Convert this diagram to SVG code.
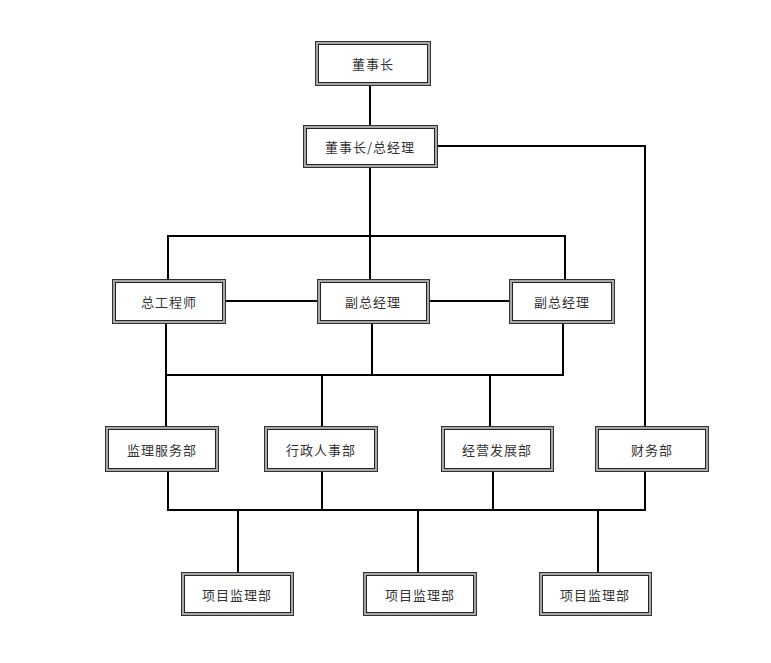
<svg xmlns="http://www.w3.org/2000/svg" width="771" height="663" viewBox="0 0 771 663">
<style>
.o{fill:#a8a8a8;stroke:#333;stroke-width:1}
.i{fill:#fff;stroke:#222;stroke-width:1}
.t{font-family:"Noto Sans CJK SC","Noto Sans",sans-serif;font-size:13px;letter-spacing:1px;fill:#333;text-anchor:middle;dominant-baseline:central}
.c{fill:none;stroke:#000;stroke-width:2}
</style>
<rect width="771" height="663" fill="#fff"/>
<g id="connectors">
<path class="c" d="M370 85V125"/>
<path class="c" d="M437 146H645V426"/>
<path class="c" d="M370 167V279"/>
<path class="c" d="M168 279V236H565V279"/>
<path class="c" d="M225 301H317M429 301H509"/>
<path class="c" d="M166 323V426"/>
<path class="c" d="M166 375H563V323"/>
<path class="c" d="M372 323V375"/>
<path class="c" d="M322 375V426M490 375V426"/>
<path class="c" d="M168 471V510H645V471"/>
<path class="c" d="M322 471V510M493 471V510"/>
<path class="c" d="M238 510V572M418 510V572M598 510V572"/>
</g>
<g id="n1"><rect class="o" x="315.5" y="41.5" width="115" height="44"/><rect class="i" x="318.5" y="44.5" width="109" height="38"/><text class="t" x="373" y="63.5">董事长</text></g>
<g id="n2"><rect class="o" x="303.5" y="125.5" width="134" height="42"/><rect class="i" x="306.5" y="128.5" width="128" height="36"/><text class="t" x="370" y="146.5">董事长/总经理</text></g>
<g id="n3"><rect class="o" x="112.5" y="279.5" width="113" height="44"/><rect class="i" x="115.5" y="282.5" width="107" height="38"/><text class="t" x="169" y="301.5">总工程师</text></g>
<g id="n4"><rect class="o" x="317.5" y="279.5" width="112" height="44"/><rect class="i" x="320.5" y="282.5" width="106" height="38"/><text class="t" x="373" y="301.5">副总经理</text></g>
<g id="n5"><rect class="o" x="509.5" y="279.5" width="105" height="44"/><rect class="i" x="512.5" y="282.5" width="99" height="38"/><text class="t" x="562" y="301.5">副总经理</text></g>
<g id="n6"><rect class="o" x="105.5" y="426.5" width="113" height="45"/><rect class="i" x="108.5" y="429.5" width="107" height="39"/><text class="t" x="162" y="449">监理服务部</text></g>
<g id="n7"><rect class="o" x="264.5" y="426.5" width="113" height="45"/><rect class="i" x="267.5" y="429.5" width="107" height="39"/><text class="t" x="321" y="449">行政人事部</text></g>
<g id="n8"><rect class="o" x="441.5" y="426.5" width="112" height="45"/><rect class="i" x="444.5" y="429.5" width="106" height="39"/><text class="t" x="497" y="449">经营发展部</text></g>
<g id="n9"><rect class="o" x="595.5" y="426.5" width="113" height="45"/><rect class="i" x="598.5" y="429.5" width="107" height="39"/><text class="t" x="652" y="449">财务部</text></g>
<g id="n10"><rect class="o" x="181.5" y="572.5" width="112" height="43"/><rect class="i" x="184.5" y="575.5" width="106" height="37"/><text class="t" x="237" y="594">项目监理部</text></g>
<g id="n11"><rect class="o" x="363.5" y="572.5" width="113" height="43"/><rect class="i" x="366.5" y="575.5" width="107" height="37"/><text class="t" x="420" y="594">项目监理部</text></g>
<g id="n12"><rect class="o" x="539.5" y="572.5" width="112" height="43"/><rect class="i" x="542.5" y="575.5" width="106" height="37"/><text class="t" x="595" y="594">项目监理部</text></g>
</svg>
